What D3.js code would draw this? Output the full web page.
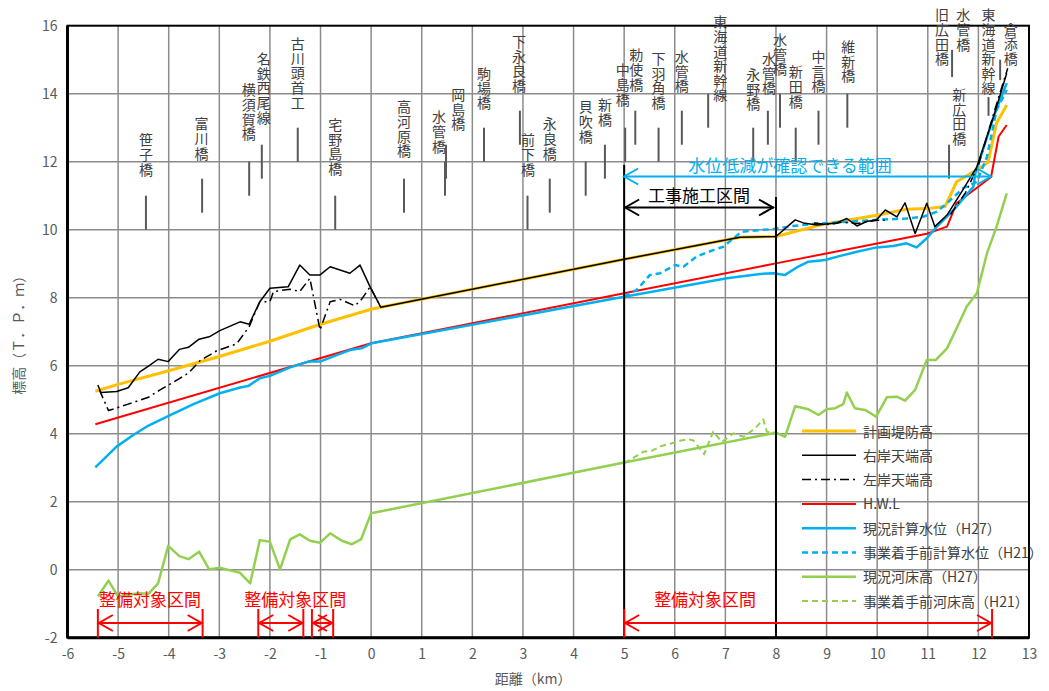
<!DOCTYPE html>
<html lang="ja">
<head>
<meta charset="UTF-8">
<script src="https://d3js.org/d3.v7.min.js"></script>
<style>
  body { margin: 0; background: #fff; }
  svg { display: block; font-family: "Noto Sans CJK JP", "Noto Sans", sans-serif; }
  .vert { writing-mode: vertical-rl; text-orientation: upright; }
</style>
</head>
<body>
<div id="chart"></div>
<script>
// ---- data (km, T.P.m) ----
var planLevee = [[-5.45,5.25],[-5,5.45],[-4,5.85],[-3,6.27],[-2,6.72],[-1,7.22],[0,7.66],[0.19,7.72],[5,9.13],[7.29,9.78],[8,9.8],
  [8.97,10.17],[10.02,10.43],[10.58,10.6],[10.98,10.62],[11.34,10.68],[11.57,11.41],[11.97,11.76],[12.19,11.98],[12.36,13.14],[12.56,13.67]];
var rightBank = [[-5.4,5.43],[-5.34,5.21],[-5.03,5.24],[-4.8,5.35],[-4.57,5.82],[-4.4,5.99],[-4.21,6.19],[-4.01,6.12],[-3.79,6.48],[-3.61,6.54],
  [-3.4,6.78],[-3.2,6.85],[-2.99,7.03],[-2.59,7.29],[-2.41,7.22],[-2.2,7.88],[-2.0,8.28],[-1.64,8.32],[-1.41,8.96],[-1.21,8.67],[-1.01,8.67],
  [-0.81,8.91],[-0.42,8.72],[-0.22,8.96],[-0.02,8.32],[0.19,7.72],[5,9.13],[7.29,9.78],[8,9.8],[8.38,10.29],[8.54,10.2],[8.81,10.14],[9.0,10.17],
  [9.2,10.2],[9.4,10.33],[9.6,10.11],[9.79,10.24],[9.99,10.29],[10.16,10.58],[10.39,10.38],[10.55,10.79],[10.75,9.89],[10.98,10.78],[11.14,10.09],
  [11.38,10.43],[11.65,11.07],[11.97,11.85],[12.3,13.32],[12.56,14.6]];
var leftBankA = [[-5.37,5.29],[-5.19,4.68],[-4.8,4.87],[-4.4,5.07],[-4.17,5.29],[-3.97,5.46],[-3.61,5.78],[-3.38,6.15],[-3.05,6.44],[-2.66,6.64],
  [-2.41,7.15],[-2.2,7.88],[-2.0,7.88],[-1.93,8.18],[-1.6,8.25],[-1.41,8.18],[-1.21,8.57],[-1.01,7.05],[-0.81,7.88],[-0.61,7.95],[-0.32,7.76],
  [-0.19,7.95],[-0.02,8.32],[0.19,7.72]];
var leftBankB = [[8.75,10.2],[9.05,10.15],[9.3,10.22],[9.6,10.18],[10.0,10.28],[10.15,10.28]];
var leftBankC = [[11.45,10.45],[11.75,11.1],[12.0,11.9],[12.2,12.9],[12.4,13.9],[12.58,14.75]];
var hwl = [[-5.45,4.28],[0,6.66],[5,8.13],[8,9.01],[10.98,9.88],[11.38,10.09],[11.57,10.78],[12.25,11.55],[12.4,12.74],[12.56,13.08]];
var waterH27 = [[-5.45,3.01],[-5.03,3.62],[-4.7,3.96],[-4.4,4.24],[-3.97,4.55],[-3.51,4.87],[-2.99,5.19],[-2.59,5.36],[-2.43,5.4],[-2.2,5.63],
  [-2.0,5.7],[-1.6,5.95],[-1.24,6.12],[-1.01,6.12],[-0.68,6.31],[-0.42,6.46],[-0.19,6.51],[0.01,6.66],[5,8.03],[7.03,8.57],[7.69,8.7],[7.95,8.72],
  [8.18,8.67],[8.41,8.89],[8.64,9.06],[8.97,9.11],[9.27,9.23],[9.6,9.35],[9.99,9.48],[10.32,9.52],[10.58,9.6],[10.78,9.48],[10.98,9.75],
  [11.18,10.09],[11.51,10.58],[11.9,11.26],[11.94,11.66],[12.3,13.32],[12.56,14.31]];
var waterH21 = [[5,8.03],[5.25,8.23],[5.51,8.67],[5.71,8.72],[6.01,8.96],[6.17,8.91],[6.43,9.21],[6.76,9.4],[6.96,9.5],[7.32,9.94],[7.69,9.99],
  [7.95,10.02],[8.34,10.11],[8.74,10.17],[9.27,10.22],[9.99,10.29],[10.58,10.33],[10.91,10.38],[11.18,10.53],[11.38,10.78],[11.7,11.22],
  [11.97,11.41],[12.17,12.15],[12.36,13.52],[12.56,14.11]];
var bedH27 = [[-5.4,-0.79],[-5.19,-0.32],[-5.0,-0.79],[-4.6,-0.69],[-4.4,-0.71],[-4.21,-0.4],[-4.01,0.7],[-3.79,0.4],[-3.61,0.31],[-3.4,0.53],
  [-3.2,0.01],[-3.0,0.06],[-2.59,-0.09],[-2.39,-0.4],[-2.2,0.87],[-2.0,0.82],[-1.8,0.01],[-1.6,0.89],[-1.41,1.04],[-1.21,0.85],[-1.01,0.79],
  [-0.81,1.07],[-0.58,0.85],[-0.38,0.75],[-0.2,0.89],[0,1.66],[5,3.15],[8,4.03],[8.18,3.91],[8.38,4.81],[8.64,4.72],[8.84,4.55],[9.0,4.72],
  [9.17,4.75],[9.33,4.87],[9.4,5.21],[9.56,4.75],[9.76,4.7],[9.98,4.5],[10.19,5.07],[10.39,5.09],[10.55,4.97],[10.75,5.29],[10.98,6.17],
  [11.16,6.17],[11.38,6.51],[11.57,7.1],[11.77,7.74],[11.97,8.13],[12.17,9.31],[12.36,10.09],[12.56,11.07]];
var bedH21 = [[5,3.15],[5.12,3.23],[5.38,3.47],[5.55,3.5],[5.74,3.64],[5.94,3.72],[6.1,3.79],[6.27,3.84],[6.37,3.8],[6.49,3.57],[6.58,3.4],
  [6.76,4.06],[6.93,3.76],[7.16,4.01],[7.36,3.91],[7.59,4.16],[7.75,4.42],[7.82,4.06],[8,4.03]];

var legendLabels = ["計画堤防高","右岸天端高","左岸天端高","H.W.L","現況計算水位（H27）","事業着手前計算水位（H21）","現況河床高（H27）","事業着手前河床高（H21）"];

// bridges: name, tick km, tick bottom/top elevation (null = no tick), label km, label top elevation
var bridgeNames = ["笹子橋","富川橋","横須賀橋","名鉄西尾線","古川頭首工","宅野島橋","高河原橋","水管橋","岡島橋","駒場橋","下永良橋","前下橋","永良橋",
  "貝吹橋","新橋","中島橋","勅使橋","下羽角橋","水管橋","東海道新幹線","永野橋","水管橋","水管橋","新田橋","中言橋","維新橋","新広田橋","旧広田橋","水管橋","東海道新幹線","倉添橋"];
var bridgeKm = [-4.45,-3.34,-2.41,-2.16,-1.45,-0.71,0.65,1.46,1.48,2.23,2.94,3.09,3.53,4.24,4.62,5.02,5.22,5.68,6.14,6.66,7.55,7.84,8.08,8.39,8.84,9.41,11.42,11.48,null,12.2,12.43];
var bridgeTickLo = [10,10.5,11,11.5,12,10,10.5,11,11.5,12,12.5,10,10.5,11,11.5,12,12.5,12,12.5,13,12,12.5,13,12,12.5,13,11.5,14.49,null,13.35,14.4];
var bridgeTickHi = [11,11.5,12,12.5,13,11,11.5,12,12.5,13,13.5,11,11.5,12,12.5,13,13.5,13,13.5,14,13,13.5,14,13,13.5,14,12.5,15.29,null,13.9,15.0];
var labelKm = [-4.45,-3.35,-2.42,-2.12,-1.45,-0.71,0.65,1.34,1.72,2.23,2.92,3.1,3.53,4.24,4.62,4.97,5.24,5.68,6.14,6.9,7.55,7.86,8.08,8.39,8.84,9.43,11.62,11.28,11.7,12.2,12.64];
var labelTop = [12.84,13.31,14.31,15.23,15.67,13.29,13.81,13.52,14.17,14.79,15.73,12.84,13.31,13.81,13.87,14.9,15.34,15.23,15.29,16.31,14.76,15.23,15.79,14.84,15.29,15.58,14.17,16.52,16.52,16.52,16.1];

// sections
var workSection = [5, 8];
var checkSection = [5, 12.25];
var targetSections = [[-5.4, -3.33], [-2.23, -1.34], [-1.17, -0.75], [5, 12.27]];
var targetLabelKm = [-4.37, -1.5, 6.6];

// ---- layout ----
var W = 1049, H = 691;
var x = d3.scaleLinear().domain([-6, 13]).range([67.5, 1029]);
var y = d3.scaleLinear().domain([-2, 16]).range([637.7, 25.7]);

var svg = d3.select("#chart").append("svg").attr("width", W).attr("height", H);

// gridlines
svg.append("g").selectAll("line").data(d3.range(-5, 13)).enter().append("line")
  .attr("x1", d => x(d)).attr("x2", d => x(d)).attr("y1", y(16)).attr("y2", y(-2))
  .attr("stroke", "#8c8c8c").attr("stroke-width", 1.5);
svg.append("g").selectAll("line").data(d3.range(0, 16, 2)).enter().append("line")
  .attr("x1", x(-6)).attr("x2", x(13)).attr("y1", d => y(d)).attr("y2", d => y(d))
  .attr("stroke", "#8c8c8c").attr("stroke-width", 1.5);

// axes
var yAxis = svg.append("g").attr("transform", "translate(" + x(-6) + ",0)")
  .call(d3.axisLeft(y).tickValues(d3.range(-2, 17, 2)).tickSize(0).tickPadding(10).tickFormat(d => String(d)));
var xAxis = svg.append("g").attr("transform", "translate(0," + y(-2) + ")")
  .call(d3.axisBottom(x).tickValues(d3.range(-6, 14)).tickSize(0).tickPadding(11).tickFormat(d => String(d)));
[xAxis, yAxis].forEach(function (g) {
  g.select(".domain").remove();
  g.selectAll("text").attr("font-size", 14).attr("fill", "#595959")
    .style("font-family", "'Noto Sans CJK JP', sans-serif");
});

// frame
svg.append("rect").attr("x", x(-6)).attr("y", y(16)).attr("width", x(13) - x(-6)).attr("height", y(-2) - y(16))
  .attr("fill", "none").attr("stroke", "#000").attr("stroke-width", 2);
svg.append("line").attr("x1", x(-6)).attr("x2", x(-6)).attr("y1", y(16)).attr("y2", y(-2)).attr("stroke", "#000").attr("stroke-width", 3);
svg.append("line").attr("x1", x(-6)).attr("x2", x(13)).attr("y1", y(-2)).attr("y2", y(-2)).attr("stroke", "#000").attr("stroke-width", 3);

// axis titles
svg.append("text").attr("transform", "translate(24," + y(7) + ") rotate(-90)").attr("text-anchor", "middle")
  .attr("font-size", 14).attr("fill", "#595959").text("標高（Ｔ．Ｐ．ｍ）");
svg.append("text").attr("x", x(3.2)).attr("y", 684).attr("text-anchor", "middle")
  .attr("font-size", 14).attr("fill", "#595959").text("距離（km）");

// bridges (vertical labels + tick marks)
var bridgeG = svg.append("g");
bridgeNames.forEach(function (name, i) {
  if (bridgeKm[i] !== null) {
    bridgeG.append("line").attr("x1", x(bridgeKm[i])).attr("x2", x(bridgeKm[i]))
      .attr("y1", y(bridgeTickLo[i])).attr("y2", y(bridgeTickHi[i]))
      .attr("stroke", "#595959").attr("stroke-width", 2);
  }
  bridgeG.append("text").attr("class", "vert")
    .attr("x", x(labelKm[i])).attr("y", y(labelTop[i]))
    .attr("font-size", 14).attr("letter-spacing", 0.6).attr("fill", "#404040")
    .text(name);
});

// series
var line = d3.line().x(d => x(d[0])).y(d => y(d[1]));
var seriesStyle = [
  { data: [bedH27], color: "#92D050", width: 2.5, dash: null },
  { data: [bedH21], color: "#92D050", width: 2, dash: "6,4" },
  { data: [planLevee], color: "#FFC000", width: 3, dash: null },
  { data: [hwl], color: "#FF0000", width: 2, dash: null },
  { data: [waterH27], color: "#00B0F0", width: 2.5, dash: null },
  { data: [waterH21], color: "#00B0F0", width: 2.5, dash: "6,4" },
  { data: [rightBank], color: "#000000", width: 1.5, dash: null },
  { data: [leftBankA, leftBankB, leftBankC], color: "#000000", width: 1.5, dash: "9,4,2,4" }
];
seriesStyle.forEach(function (s) {
  s.data.forEach(function (arr) {
    svg.append("path").datum(arr).attr("d", line).attr("fill", "none")
      .attr("stroke", s.color).attr("stroke-width", s.width).attr("stroke-linejoin", "round")
      .attr("stroke-dasharray", s.dash);
  });
});

// helpers for arrows
function chevron(g, px, py, dir, color, w) {
  g.append("path").attr("d", "M" + (px - dir * 14) + "," + (py - 8) + "L" + px + "," + py + "L" + (px - dir * 14) + "," + (py + 8))
    .attr("fill", "none").attr("stroke", color).attr("stroke-width", w);
}
var ann = svg.append("g");

// work section verticals
ann.append("line").attr("x1", x(workSection[0])).attr("x2", x(workSection[0])).attr("y1", 165).attr("y2", y(-2))
  .attr("stroke", "#000").attr("stroke-width", 2);
ann.append("line").attr("x1", x(workSection[1])).attr("x2", x(workSection[1])).attr("y1", 197).attr("y2", y(-2))
  .attr("stroke", "#000").attr("stroke-width", 2);

// 水位低減 arrow
var cy = 176.5;
ann.append("line").attr("x1", x(checkSection[0])).attr("x2", x(checkSection[1])).attr("y1", cy).attr("y2", cy)
  .attr("stroke", "#00B0F0").attr("stroke-width", 2);
chevron(ann, x(checkSection[0]), cy, -1, "#00B0F0", 2);
chevron(ann, x(checkSection[1]), cy, 1, "#00B0F0", 2);
ann.append("text").attr("x", 790).attr("y", 172).attr("text-anchor", "middle").attr("font-size", 17)
  .attr("fill", "#00B0F0").text("水位低減が確認できる範囲");

// 工事施工区間 arrow
var wy = 207.5;
ann.append("line").attr("x1", x(workSection[0])).attr("x2", x(workSection[1]) - 2).attr("y1", wy).attr("y2", wy)
  .attr("stroke", "#000").attr("stroke-width", 2);
chevron(ann, x(workSection[0]) + 1, wy, -1, "#000", 2);
chevron(ann, x(workSection[1]) - 3, wy, 1, "#000", 2);
ann.append("text").attr("x", 699).attr("y", 202).attr("text-anchor", "middle").attr("font-size", 17)
  .attr("fill", "#000").text("工事施工区間");

// 整備対象区間
var ry = 623;
targetSections.forEach(function (s) {
  [s[0], s[1]].forEach(function (k) {
    ann.append("line").attr("x1", x(k)).attr("x2", x(k)).attr("y1", 609).attr("y2", y(-2))
      .attr("stroke", "#FF0000").attr("stroke-width", 2);
  });
  ann.append("line").attr("x1", x(s[0])).attr("x2", x(s[1])).attr("y1", ry).attr("y2", ry)
    .attr("stroke", "#FF0000").attr("stroke-width", 2);
  chevron(ann, x(s[0]) + 1, ry, -1, "#FF0000", 2);
  chevron(ann, x(s[1]) - 1, ry, 1, "#FF0000", 2);
});
targetLabelKm.forEach(function (k) {
  ann.append("text").attr("x", x(k)).attr("y", 606).attr("text-anchor", "middle").attr("font-size", 17)
    .attr("fill", "#FF0000").text("整備対象区間");
});

// legend
var legendStyle = [
  { color: "#FFC000", width: 3, dash: null },
  { color: "#000", width: 1.5, dash: null },
  { color: "#000", width: 1.5, dash: "9,4,2,4" },
  { color: "#FF0000", width: 2, dash: null },
  { color: "#00B0F0", width: 2.5, dash: null },
  { color: "#00B0F0", width: 2.5, dash: "6,4" },
  { color: "#92D050", width: 2.5, dash: null },
  { color: "#92D050", width: 2, dash: "6,4" }
];
var lg = svg.append("g").attr("transform", "translate(802,431)");
legendLabels.forEach(function (lab, i) {
  var st = legendStyle[i];
  lg.append("line").attr("x1", 0).attr("x2", 54).attr("y1", i * 24.3).attr("y2", i * 24.3)
    .attr("stroke", st.color).attr("stroke-width", st.width).attr("stroke-dasharray", st.dash);
  lg.append("text").attr("x", 61).attr("y", i * 24.3 + 5.5).attr("font-size", 14).attr("fill", "#404040").text(lab);
});
</script>
</body>
</html>
